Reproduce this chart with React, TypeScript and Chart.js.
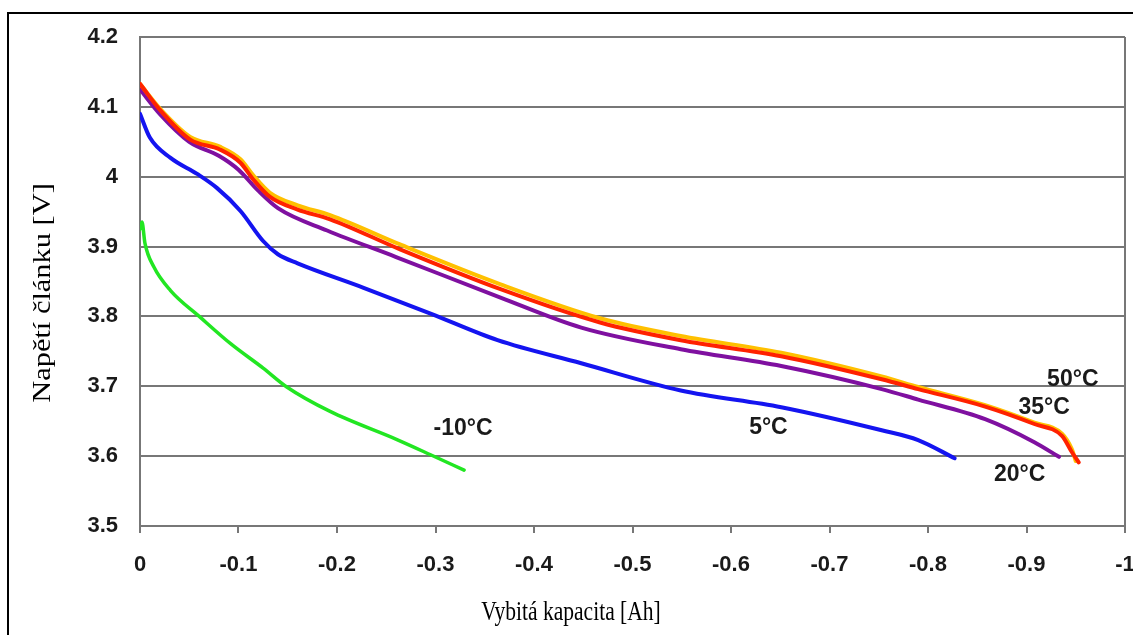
import React, { useEffect, useRef } from "react";
import { Chart, registerables } from "chart.js";

Chart.register(...registerables);

// Discharged capacity [Ah] (negative) and cell voltage [V] per temperature
const cap35 = [0, -0.02, -0.051, -0.081, -0.102, -0.115, -0.132, -0.16, -0.193, -0.264, -0.366, -0.468, -0.549, -0.651, -0.753, -0.79, -0.858, -0.908, -0.936, -0.946, -0.953];
const volt35 = [4.133, 4.096, 4.053, 4.039, 4.02, 3.996, 3.971, 3.953, 3.939, 3.896, 3.839, 3.791, 3.766, 3.743, 3.71, 3.696, 3.671, 3.646, 3.629, 3.606, 3.591];

const cap50 = [0, -0.02, -0.051, -0.081, -0.102, -0.115, -0.132, -0.16, -0.193, -0.264, -0.366, -0.468, -0.549, -0.651, -0.753, -0.79, -0.858, -0.908, -0.936, -0.946, -0.95];
const volt50 = [4.133, 4.098, 4.057, 4.043, 4.025, 4.002, 3.977, 3.959, 3.945, 3.903, 3.846, 3.797, 3.772, 3.748, 3.714, 3.699, 3.673, 3.648, 3.632, 3.61, 3.593];

const cap20 = [0, -0.02, -0.05, -0.08, -0.1, -0.12, -0.14, -0.19, -0.26, -0.366, -0.448, -0.549, -0.651, -0.753, -0.79, -0.858, -0.908, -0.933];
const volt20 = [4.125, 4.09, 4.05, 4.03, 4.01, 3.98, 3.955, 3.923, 3.885, 3.827, 3.784, 3.753, 3.729, 3.696, 3.681, 3.653, 3.62, 3.599];

const cap5 = [0, -0.01, -0.031, -0.058, -0.078, -0.102, -0.125, -0.14, -0.16, -0.227, -0.295, -0.363, -0.448, -0.549, -0.651, -0.753, -0.79, -0.827];
const volt5 = [4.09, 4.056, 4.027, 4.004, 3.984, 3.951, 3.908, 3.889, 3.876, 3.841, 3.804, 3.766, 3.733, 3.694, 3.67, 3.637, 3.623, 3.597];

const capM10 = [0, -0.002, -0.005, -0.014, -0.031, -0.061, -0.092, -0.125, -0.149, -0.193, -0.262, -0.295, -0.329];
const voltM10 = [3.925, 3.935, 3.905, 3.871, 3.837, 3.799, 3.761, 3.726, 3.699, 3.664, 3.623, 3.602, 3.58];

// Curve labels placed in data coordinates
const labelTexts = ["50°C", "35°C", "20°C", "5°C", "-10°C"];
const labelCap = [-0.947, -0.918, -0.893, -0.638, -0.328];
const labelVolt = [3.71, 3.669, 3.573, 3.641, 3.64];

const xTitle = "Vybitá kapacita [Ah]";
const yTitle = "Napětí článku [V]";

const X_MIN = -1;
const X_MAX = 0;
const Y_MIN = 3.5;
const Y_MAX = 4.2;
const STEP = 0.1;

const GRID = "#777777";

function pts(xs: number[], ys: number[]) {
  return xs.map((x, i) => ({ x, y: ys[i] }));
}

const decorPlugin = {
  id: "decor",
  beforeDraw(chart: any) {
    const ctx = chart.ctx;
    ctx.save();
    ctx.fillStyle = "#000";
    ctx.fillRect(7, 12, 2, chart.height);
    ctx.fillRect(7, 12, chart.width, 2);
    ctx.restore();
  },
  afterDraw(chart: any) {
    const ctx = chart.ctx;
    const { chartArea } = chart;
    const xs = chart.scales.x;
    const ys = chart.scales.y;
    ctx.save();
    // right frame
    ctx.strokeStyle = GRID;
    ctx.lineWidth = 2;
    ctx.beginPath();
    ctx.moveTo(chartArea.right, chartArea.top);
    ctx.lineTo(chartArea.right, chartArea.bottom + 7);
    ctx.stroke();

    // curve labels
    ctx.fillStyle = "#1a1a1a";
    ctx.font = 'bold 23px "Liberation Sans", Arial, sans-serif';
    ctx.textAlign = "center";
    ctx.textBaseline = "middle";
    labelTexts.forEach((t, i) => {
      ctx.fillText(t, xs.getPixelForValue(labelCap[i]), ys.getPixelForValue(labelVolt[i]));
    });

    // x title
    ctx.save();
    ctx.fillStyle = "#000";
    ctx.font = '28px "Liberation Serif", "Times New Roman", serif';
    ctx.textAlign = "center";
    ctx.textBaseline = "alphabetic";
    ctx.translate(571, 620);
    ctx.scale(0.77, 1);
    ctx.fillText(xTitle, 0, 0);
    ctx.restore();

    // y title
    ctx.save();
    ctx.fillStyle = "#000";
    ctx.font = '26px "Liberation Serif", "Times New Roman", serif';
    ctx.textAlign = "center";
    ctx.textBaseline = "alphabetic";
    ctx.translate(50, 293);
    ctx.rotate(-Math.PI / 2);
    ctx.scale(1.17, 1);
    ctx.fillText(yTitle, 0, 0);
    ctx.restore();

    ctx.restore();
  },
};

export default function App() {
  const ref = useRef<HTMLCanvasElement | null>(null);

  useEffect(() => {
    if (!ref.current) return;
    const common = {
      pointRadius: 0,
      fill: false,
      tension: 0.3,
      cubicInterpolationMode: "monotone" as const,
      borderJoinStyle: "round" as const,
      borderCapStyle: "round" as const,
    };
    const chart = new Chart(ref.current, {
      type: "line",
      data: {
        datasets: [
          { label: "35°C", data: pts(cap35, volt35), borderColor: "#ff2200", borderWidth: 4, ...common },
          { label: "50°C", data: pts(cap50, volt50), borderColor: "#ffc000", borderWidth: 4, ...common },
          { label: "20°C", data: pts(cap20, volt20), borderColor: "#7f10a0", borderWidth: 4, ...common },
          { label: "5°C", data: pts(cap5, volt5), borderColor: "#1414f0", borderWidth: 4, ...common },
          { label: "-10°C", data: pts(capM10, voltM10), borderColor: "#22e622", borderWidth: 3.5, ...common },
        ],
      },
      options: {
        animation: false,
        responsive: true,
        maintainAspectRatio: false,
        layout: { padding: { left: 0, top: 37, right: 8, bottom: 0 } },
        plugins: {
          legend: { display: false },
          tooltip: { enabled: false },
          title: { display: false },
        },
        scales: {
          x: {
            type: "linear",
            min: X_MIN,
            max: X_MAX,
            reverse: true,
            afterFit: (s: any) => {
              s.height = 109;
              s.paddingLeft = 0;
              s.paddingRight = 0;
            },
            ticks: {
              stepSize: STEP,
              color: "#1a1a1a",
              padding: 19,
              maxRotation: 0,
              autoSkip: false,
              font: { family: '"Liberation Sans", Arial, sans-serif', size: 22, weight: "bold" },
              callback: (v: any) => String(Number(Number(v).toFixed(1))),
            },
            grid: {
              drawOnChartArea: false,
              drawTicks: true,
              tickLength: 7,
              color: GRID,
              lineWidth: 2,
            },
            border: { display: true, color: GRID, width: 2 },
          },
          y: {
            type: "linear",
            min: Y_MIN,
            max: Y_MAX,
            afterFit: (s: any) => {
              s.width = 140;
              s.paddingTop = 0;
              s.paddingBottom = 0;
            },
            ticks: {
              stepSize: STEP,
              color: "#1a1a1a",
              padding: 22,
              font: { family: '"Liberation Sans", Arial, sans-serif', size: 22, weight: "bold" },
              callback: (v: any) => String(Number(Number(v).toFixed(1))),
            },
            grid: {
              drawTicks: false,
              color: GRID,
              lineWidth: 2,
            },
            border: { display: true, color: GRID, width: 2 },
          },
        },
      },
      plugins: [decorPlugin],
    });
    return () => chart.destroy();
  }, []);

  return (
    <div style={{ position: "fixed", left: 0, top: 0, width: 1133, height: 635, background: "#fff" }}>
      <canvas ref={ref} />
    </div>
  );
}
